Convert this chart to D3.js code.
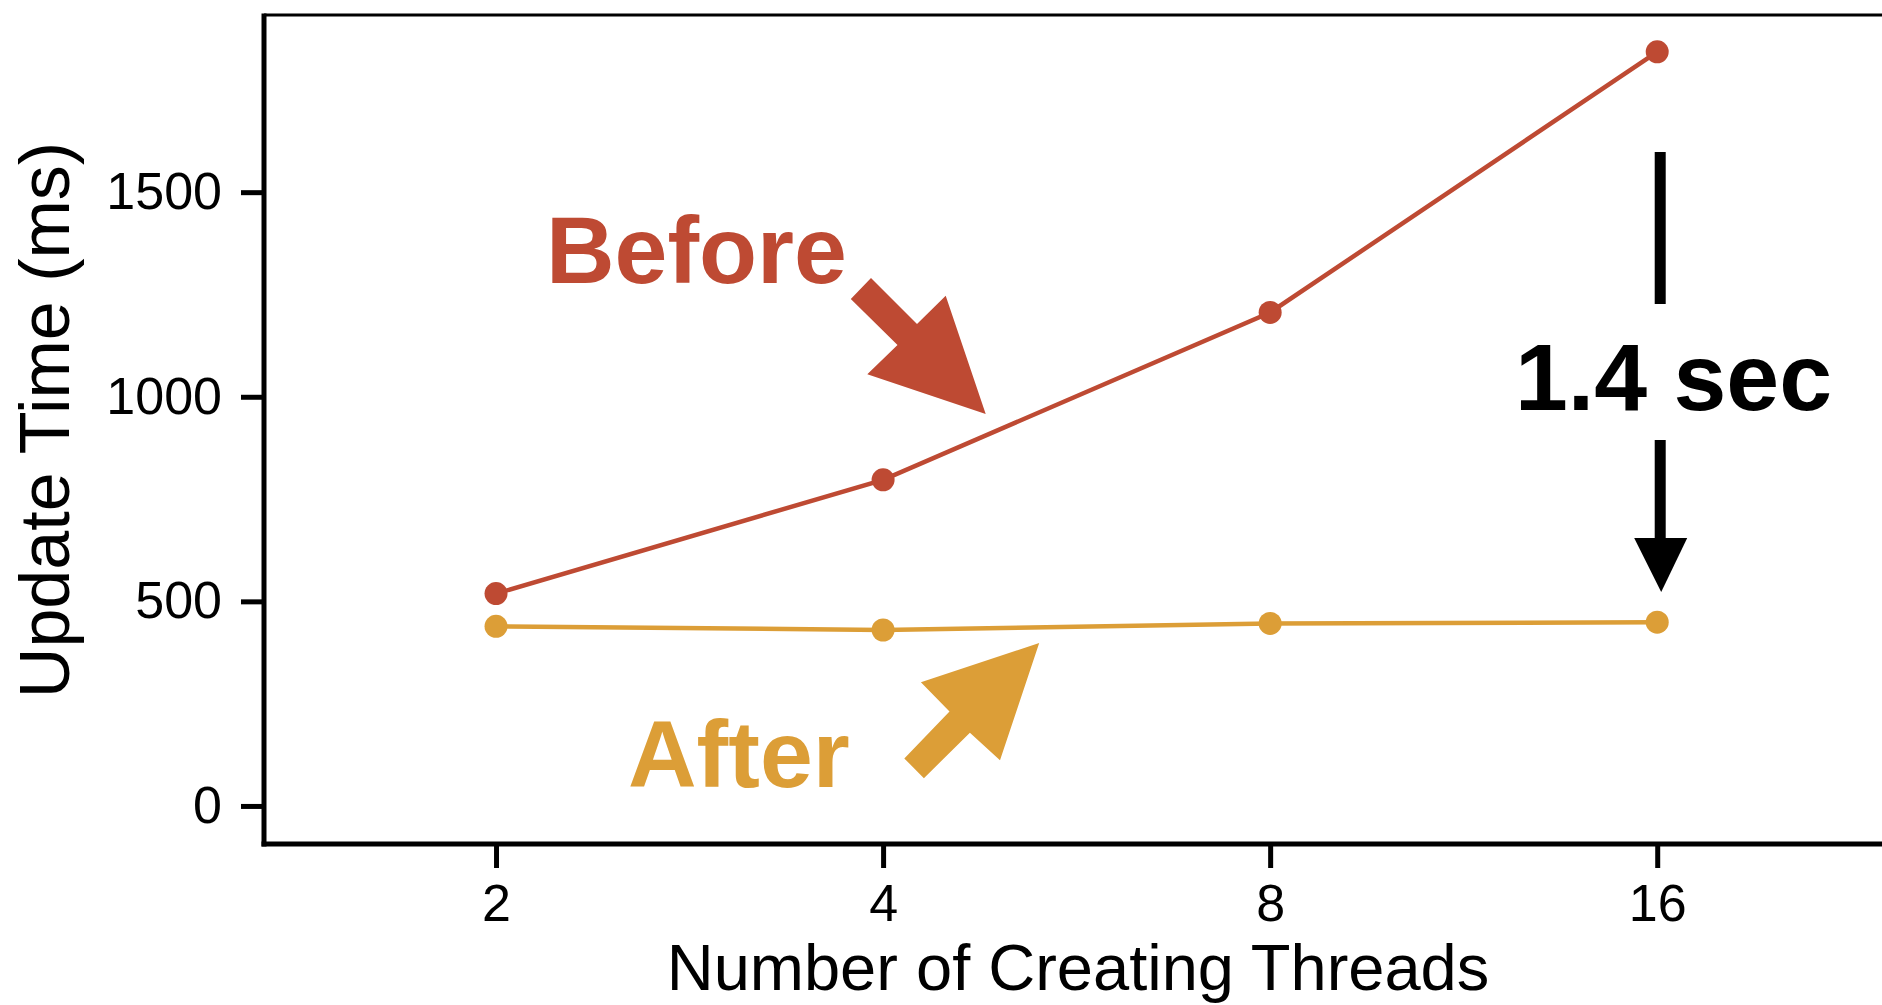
<!DOCTYPE html>
<html>
<head>
<meta charset="utf-8">
<script src="https://cdn.jsdelivr.net/npm/d3@7/dist/d3.min.js"></script>
<style>
  html, body { margin: 0; padding: 0; background: #fff; }
  svg { display: block; }
  text { font-family: "Liberation Sans", Arial, Helvetica, sans-serif; }
</style>
</head>
<body>
<svg id="chart" width="1882" height="1005"></svg>
<script>
// Thread counts on the x axis and update times (ms) per series
const threads = [2, 4, 8, 16];
const beforeMs = [519, 797, 1206, 1843];
const afterMs = [439, 430, 446, 449];
const yTicks = [0, 500, 1000, 1500];
const xTickLabels = ["2", "4", "8", "16"];

const seriesNames = ["Before", "After"];
const seriesColors = ["#BE4A33", "#DC9E37"];

const W = 1882, H = 1005;
const plot = { left: 264, right: 1882, top: 15, bottom: 844 };

const svg = d3.select("#chart");

const x = d3.scaleLog().base(2)
  .domain([1.32, 23.93])
  .range([plot.left, plot.right]);

const y = d3.scaleLinear()
  .domain([-93, 1933])
  .range([plot.bottom, plot.top]);

// Axes
const yAxis = d3.axisLeft(y)
  .tickValues(yTicks)
  .tickSize(23)
  .tickPadding(19)
  .tickFormat(d3.format("d"));

const xAxis = d3.axisBottom(x)
  .tickValues(threads)
  .tickSize(24)
  .tickPadding(16)
  .tickFormat((d, i) => xTickLabels[i]);

const gy = svg.append("g")
  .attr("transform", `translate(${plot.left},0)`)
  .call(yAxis);
gy.select(".domain").remove();
gy.selectAll(".tick line").attr("stroke", "#000").attr("stroke-width", 5);
gy.selectAll(".tick text")
  .attr("fill", "#000")
  .style("font-size", "52px");

const gx = svg.append("g")
  .attr("transform", `translate(0,${plot.bottom})`)
  .call(xAxis);
gx.select(".domain").remove();
gx.selectAll(".tick line").attr("stroke", "#000").attr("stroke-width", 5);
gx.selectAll(".tick text")
  .attr("fill", "#000")
  .style("font-size", "52px");

// Frame: left and bottom axes, plus the top border
svg.append("line")
  .attr("x1", plot.left).attr("x2", plot.left)
  .attr("y1", plot.top - 1.5).attr("y2", plot.bottom + 2.5)
  .attr("stroke", "#000").attr("stroke-width", 5);
svg.append("line")
  .attr("x1", plot.left - 2.5).attr("x2", plot.right)
  .attr("y1", plot.bottom).attr("y2", plot.bottom)
  .attr("stroke", "#000").attr("stroke-width", 5);
svg.append("line")
  .attr("x1", plot.left).attr("x2", plot.right)
  .attr("y1", plot.top).attr("y2", plot.top)
  .attr("stroke", "#000").attr("stroke-width", 3);

// Axis titles
svg.append("text")
  .attr("transform", `translate(69,420) rotate(-90)`)
  .attr("text-anchor", "middle")
  .style("font-size", "70px")
  .attr("fill", "#000")
  .text("Update Time (ms)");

svg.append("text")
  .attr("x", 1078).attr("y", 990)
  .attr("text-anchor", "middle")
  .style("font-size", "65px")
  .attr("fill", "#000")
  .text("Number of Creating Threads");

// Series lines and points
const series = [beforeMs, afterMs].map((vals, i) => ({
  name: seriesNames[i],
  color: seriesColors[i],
  points: threads.map((t, j) => ({ t, v: vals[j] }))
}));

const line = d3.line().x(d => x(d.t)).y(d => y(d.v));

const sg = svg.selectAll("g.series")
  .data(series)
  .join("g")
  .attr("class", "series");

sg.append("path")
  .attr("d", d => line(d.points))
  .attr("fill", "none")
  .attr("stroke", d => d.color)
  .attr("stroke-width", 4.5);

sg.selectAll("circle")
  .data(d => d.points.map(p => ({ ...p, color: d.color })))
  .join("circle")
  .attr("cx", d => x(d.t))
  .attr("cy", d => y(d.v))
  .attr("r", 11.5)
  .attr("fill", d => d.color);

// Annotation: series labels with pointing arrows
svg.append("text")
  .attr("x", 546).attr("y", 283)
  .style("font-size", "95px").style("font-weight", "bold")
  .attr("fill", seriesColors[0])
  .text("Before");

svg.append("polygon")
  .attr("points", [[871, 278], [917, 324], [945.7, 295.7], [985.7, 414],
                   [867.3, 374.3], [897.5, 345], [850.8, 299]].join(" "))
  .attr("fill", seriesColors[0]);

svg.append("text")
  .attr("x", 628).attr("y", 787)
  .style("font-size", "95px").style("font-weight", "bold")
  .attr("fill", seriesColors[1])
  .text("After");

svg.append("polygon")
  .attr("points", [[1039.2, 643.1], [1000, 760.3], [969.9, 732.7], [923.9, 778.2],
                   [904.3, 758.4], [949.5, 711.4], [920.9, 682.3]].join(" "))
  .attr("fill", seriesColors[1]);

// Annotation: gap between the two series at 16 threads
const gx16 = x(16) + 3;
svg.append("line")
  .attr("x1", gx16).attr("x2", gx16)
  .attr("y1", 152).attr("y2", 304)
  .attr("stroke", "#000").attr("stroke-width", 11);
svg.append("line")
  .attr("x1", gx16).attr("x2", gx16)
  .attr("y1", 440).attr("y2", 540)
  .attr("stroke", "#000").attr("stroke-width", 11);
svg.append("polygon")
  .attr("points", [[gx16 - 26, 538], [gx16 + 27, 538], [gx16 + 1, 592]].join(" "))
  .attr("fill", "#000");

svg.append("text")
  .attr("x", 1515).attr("y", 410)
  .style("font-size", "95px").style("font-weight", "bold")
  .attr("fill", "#000")
  .text("1.4 sec");
</script>
</body>
</html>
